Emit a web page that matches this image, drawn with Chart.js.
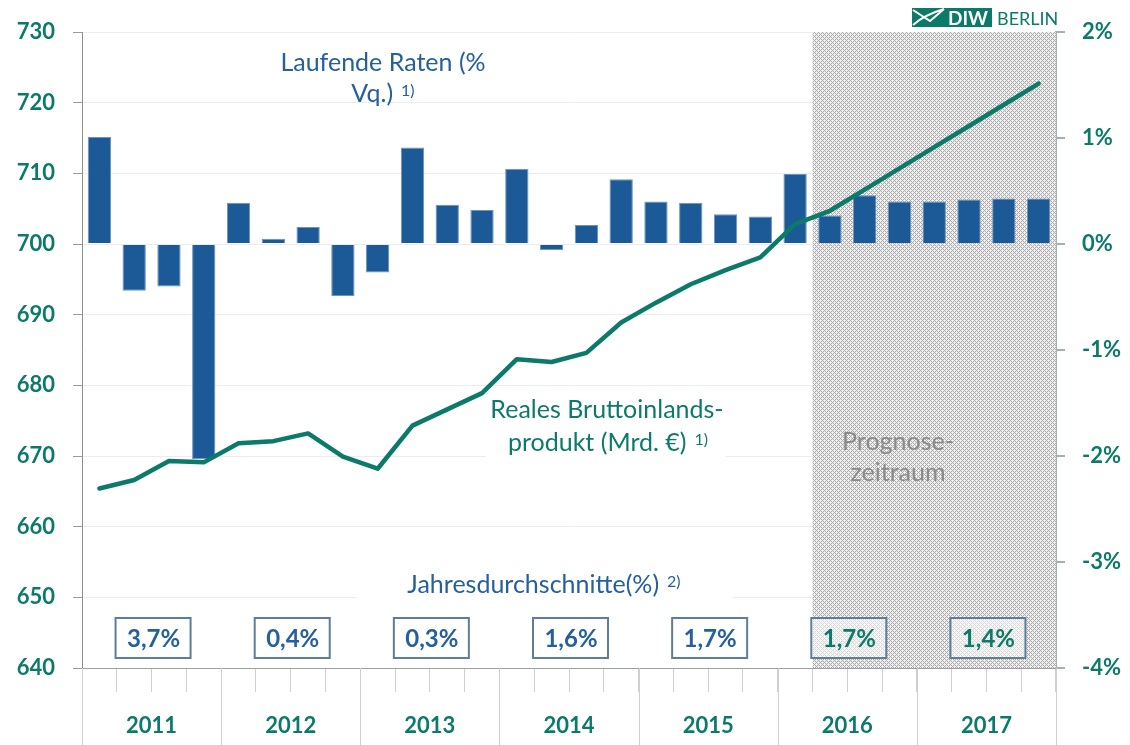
<!DOCTYPE html>
<html>
<head>
<meta charset="utf-8">
<script src="https://cdn.jsdelivr.net/npm/chart.js@4.4.1/dist/chart.umd.min.js"></script>
<style>
  html, body { margin: 0; padding: 0; background: #fff; }
</style>
</head>
<body>
<canvas id="bip" width="1130" height="745"></canvas>
<script>
const years = ['2011', '2012', '2013', '2014', '2015', '2016', '2017']
const quarters = ['Q1', 'Q2', 'Q3', 'Q4']
// Laufende Raten, % gg. Vorquartal (rechte Achse)
const rates = [1.01, -0.44, -0.40, -2.03, 0.39, 0.05, 0.16, -0.49, -0.27, 0.91, 0.37, 0.32, 0.71, -0.06,
  0.18, 0.61, 0.40, 0.39, 0.28, 0.26, 0.66, 0.27, 0.46, 0.40, 0.40, 0.42, 0.43, 0.43]
// Reales BIP, Mrd. Euro (linke Achse)
const gdp = [665.4, 666.6, 669.3, 669.1, 671.8, 672.1, 673.2, 669.9, 668.2, 674.3, 676.6, 678.9, 683.7, 683.3,
  684.6, 688.9, 691.7, 694.3, 696.3, 698.1, 702.8, 704.7, 707.7, 710.7, 713.7, 716.7, 719.7, 722.7]
// Jahresdurchschnitte
const annualAvg = ['3,7%', '0,4%', '0,3%', '1,6%', '1,7%', '1,7%', '1,4%']
const forecastYears = ['2016', '2017']
const forecastFrom = '2016 Q2'

const labels = years.flatMap(y => quarters.map(q => y + ' ' + q))

const GREEN = '#0b7a69'
const BLUE = '#1b5a96'
const TXTBLUE = '#25609c'
const FONT = 'Lato, "Open Sans", sans-serif'

function makePattern(ctx) {
  const c = document.createElement('canvas')
  c.width = 4; c.height = 4
  const p = c.getContext('2d')
  for (let x = 0; x < 4; x++) for (let y = 0; y < 4; y++) {
    let col = (x + y) % 2 === 0 ? '#ababab' : '#ececec'
    if ((x === 0 && y === 0) || (x === 2 && y === 2)) col = '#f6f6f6'
    p.fillStyle = col
    p.fillRect(x, y, 1, 1)
  }
  return ctx.createPattern(c, 'repeat')
}

function supText(ctx, txt, sup, cx, y, size, color) {
  const main = size + 'px ' + FONT
  const small = Math.round(size * 0.64) + 'px ' + FONT
  ctx.font = main
  const w1 = ctx.measureText(txt).width
  const gap = size * 0.32
  ctx.font = small
  const w2 = sup ? ctx.measureText(sup).width + gap : 0
  const x = cx - (w1 + w2) / 2
  ctx.fillStyle = color
  ctx.textAlign = 'left'
  ctx.textBaseline = 'alphabetic'
  ctx.font = main
  ctx.fillText(txt, x, y)
  if (sup) {
    ctx.font = small
    ctx.fillText(sup, x + w1 + gap, y - size * 0.26)
  }
}

const deco = {
  id: 'deco',
  beforeDatasetsDraw(chart) {
    const { ctx, chartArea: a, scales: { x } } = chart
    ctx.save()
    // Prognosezeitraum
    const fx = x.getPixelForValue(labels.indexOf(forecastFrom)) - x.width / labels.length / 2
    ctx.fillStyle = makePattern(ctx)
    ctx.fillRect(fx, a.top, a.right - fx, a.bottom - a.top)
    // weisse Flaechen hinter Beschriftungen
    ctx.fillStyle = '#fff'
    ctx.fillRect(357, 560, 376, 46)
    ctx.fillRect(486, 395, 240, 67)
    ctx.restore()
  },
  afterDatasetsDraw(chart) {
    const { ctx, chartArea: a, scales: { x } } = chart
    ctx.save()
    supText(ctx, 'Laufende Raten (%', '', 383, 71, 25, TXTBLUE)
    supText(ctx, 'Vq.)', '1)', 383, 102, 25, TXTBLUE)
    supText(ctx, 'Reales Bruttoinlands-', '', 607, 418, 25, GREEN)
    supText(ctx, 'produkt (Mrd. €)', '1)', 608, 451, 25, GREEN)
    supText(ctx, 'Prognose-', '', 898, 450, 25, '#8a8a8a')
    supText(ctx, 'zeitraum', '', 898, 481, 25, '#8a8a8a')
    supText(ctx, 'Jahresdurchschnitte(%)', '2)', 544, 593, 25, TXTBLUE)

    // Kaesten mit Jahresdurchschnitten
    years.forEach((y, k) => {
      const cx = (x.getPixelForValue(k * 4) + x.getPixelForValue(k * 4 + 3)) / 2 + 1
      const fc = forecastYears.includes(y)
      ctx.fillStyle = fc ? 'rgba(255,255,255,0.55)' : '#fff'
      ctx.fillRect(cx - 37, 618, 75, 40)
      ctx.strokeStyle = '#5f7d98'
      ctx.lineWidth = 2
      ctx.strokeRect(cx - 37, 618, 75, 40)
      ctx.fillStyle = fc ? GREEN : TXTBLUE
      ctx.font = 'bold 24px ' + FONT
      ctx.textAlign = 'center'
      ctx.textBaseline = 'middle'
      ctx.fillText(annualAvg[k], cx + 1, 639)
    })

    // Jahrestrennlinien unter der Achse
    const step = x.width / labels.length
    ctx.strokeStyle = '#cfcfcf'
    ctx.lineWidth = 1
    for (let k = 0; k <= years.length; k++) {
      const bx = Math.round(x.left + k * 4 * step) + 0.5
      ctx.beginPath()
      ctx.moveTo(bx, a.bottom)
      ctx.lineTo(bx, 745)
      ctx.stroke()
    }
    ctx.restore()
  },
  afterDraw(chart) {
    const { ctx } = chart
    ctx.save()
    // DIW Logo
    ctx.fillStyle = GREEN
    ctx.fillRect(912, 8, 80, 19)
    ctx.strokeStyle = '#fff'
    ctx.lineWidth = 2
    ctx.beginPath()
    ctx.moveTo(913, 10); ctx.lineTo(930, 21); ctx.lineTo(944, 9)
    ctx.moveTo(913, 25); ctx.quadraticCurveTo(924, 15, 944, 9)
    ctx.stroke()
    ctx.fillStyle = '#fff'
    ctx.font = 'bold 19px ' + FONT
    ctx.textAlign = 'left'
    ctx.textBaseline = 'alphabetic'
    ctx.fillText('DIW', 948, 25, 40)
    ctx.fillStyle = GREEN
    ctx.font = '18px ' + FONT
    ctx.fillText('BERLIN', 997, 25, 63)
    ctx.restore()
  }
}

new Chart(document.getElementById('bip'), {
  type: 'bar',
  data: {
    labels: labels,
    datasets: [{
      type: 'line',
      label: 'Reales Bruttoinlandsprodukt',
      data: gdp,
      yAxisID: 'y',
      borderColor: GREEN,
      borderWidth: 4.5,
      pointRadius: 0,
      tension: 0,
      borderCapStyle: 'round',
      borderJoinStyle: 'round'
    }, {
      label: 'Laufende Raten',
      data: rates,
      yAxisID: 'y1',
      backgroundColor: BLUE,
      borderColor: '#6d93bd',
      borderWidth: 1,
      barPercentage: 0.67,
      categoryPercentage: 1
    }]
  },
  options: {
    responsive: false,
    animation: false,
    layout: { padding: { top: 32, left: 0, right: 0, bottom: 0 } },
    plugins: {
      legend: { display: false },
      tooltip: { enabled: false }
    },
    scales: {
      x: {
        offset: true,
        afterFit: s => { s.height = 77 },
        border: { color: '#a0a0a0', width: 1 },
        grid: { offset: true, drawOnChartArea: false, tickLength: 24, color: '#cfcfcf' },
        ticks: {
          autoSkip: false,
          maxRotation: 0,
          padding: 21,
          labelOffset: 17.4,
          color: GREEN,
          font: { family: FONT, size: 22, weight: 'bold' },
          callback: (v, i) => i % 4 === 1 ? years[Math.floor(i / 4)] : ''
        }
      },
      y: {
        position: 'left',
        min: 640,
        max: 730,
        afterFit: s => { s.width = 82 },
        border: { color: '#8f8f8f', width: 1 },
        grid: { color: '#ececec', tickColor: '#9a9a9a', tickLength: 9 },
        ticks: {
          stepSize: 10,
          padding: 18,
          color: GREEN,
          font: { family: FONT, size: 22, weight: 'bold' }
        }
      },
      y1: {
        position: 'right',
        min: -4,
        max: 2,
        afterFit: s => { s.width = 74 },
        border: { color: '#a7afb7', width: 2 },
        grid: { drawOnChartArea: false, color: '#a7afb7', tickLength: 9, lineWidth: 2 },
        ticks: {
          stepSize: 1,
          padding: 17,
          color: GREEN,
          font: { family: FONT, size: 22, weight: 'bold' },
          callback: v => v + '%'
        }
      }
    }
  },
  plugins: [deco]
})
</script>
</body>
</html>
